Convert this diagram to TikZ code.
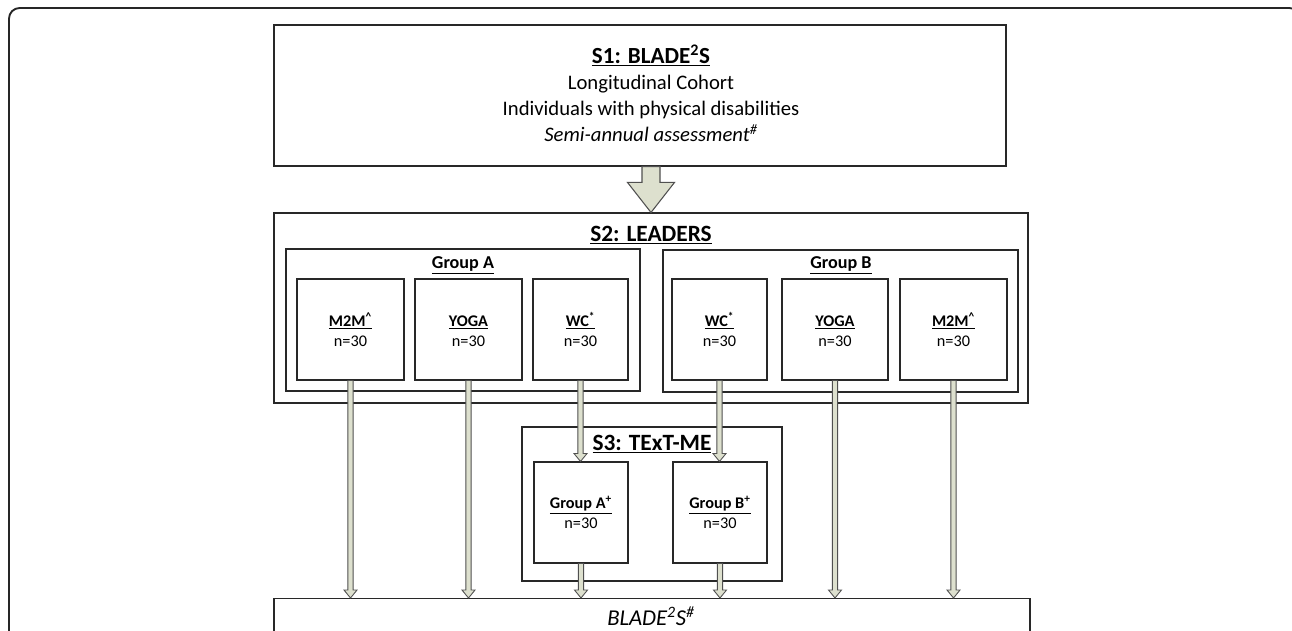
\documentclass[tikz,border=0pt]{standalone}
\usepackage{fontspec}
\setmainfont{Carlito}
\usetikzlibrary{calc}
\definecolor{afill}{RGB}{221,224,206}
\definecolor{aline}{RGB}{80,80,80}
\definecolor{bline}{RGB}{40,40,40}
\newcommand\supph{\vphantom{\textsuperscript{*}}}
\tikzset{
  box/.style={draw=bline, line width=0.8pt, rectangle, inner sep=0pt, align=center},
  barrow/.style n args={3}{to path={let \p1=(\tikztostart), \p2=(\tikztotarget) in
     (\x1-#1,\y1) -- (\x1-#1,\y2+#3) -- (\x1-#2,\y2+#3) -- (\x1,\y2) -- (\x1+#2,\y2+#3) -- (\x1+#1,\y2+#3) -- (\x1+#1,\y1) -- cycle}},
  thinarrow/.style={fill=afill, draw=aline, line width=0.65pt, line join=miter, barrow={2pt}{4.9pt}{6pt}},
  bigarrow/.style={fill=afill, draw=aline, line width=0.8pt, line join=miter, barrow={6.75pt}{17.6pt}{22.5pt}},
  bigtext/.style={font=\fontsize{15.5}{19.5}\selectfont, align=center, inner sep=0pt},
  stitle/.style={font=\fontsize{17.5}{21}\selectfont\bfseries, inner sep=0pt},
  gtitle/.style={font=\fontsize{13.6}{16}\selectfont\bfseries, inner sep=0pt},
  inner/.style={box, font=\fontsize{12.2}{15}\selectfont, minimum height=75.75pt},
}
\begin{document}
\begin{tikzpicture}[x=0.75pt,y=-0.75pt]
\useasboundingbox (0,0) rectangle (1292,631);
\clip (0,0) rectangle (1292,631);
% outer frame
\draw[line width=1.4pt, draw=black!85, rounded corners=8pt] (9,700) -- (9,8) -- (1300,8) -- (1300,700);

% S1
\node[box, minimum width=549pt, minimum height=105.75pt] (s1) at (640,95.5) {};
\node[bigtext] (s1text) at (651,93) {\underline{\textbf{\fontsize{17.3}{19.5}\selectfont S1: BLADE\textsuperscript{2}S}}\\Longitudinal Cohort\\Individuals with physical disabilities\\\textit{Semi-annual assessment\textsuperscript{\#}}};

% S2
\node[box, minimum width=565.5pt, minimum height=142.5pt] (s2) at (651,308) {};
\node[stitle] (s2t) at (651,235) {\underline{S2: LEADERS}};
\node[box, minimum width=265.5pt, minimum height=106.5pt] (ga) at (463,320) {};
\node[gtitle] (gat) at (463,265) {\underline{Group A}};
\node[box, minimum width=266.25pt, minimum height=106.5pt] (gb) at (840.5,321) {};
\node[gtitle] (gbt) at (841,265) {\underline{Group B}};

\node[inner, minimum width=80.25pt] (m2ma) at (350.5,329.5) {\underline{\textbf{M2M\textsuperscript{\textasciicircum}}}\\n=30};
\node[inner, minimum width=80.25pt] (yogaa) at (468.5,329.5) {\underline{\textbf{YOGA}}\supph\\n=30};
\node[inner, minimum width=71.25pt] (wca) at (580.5,329.5) {\underline{\textbf{WC\textsuperscript{*}}}\\n=30};
\node[inner, minimum width=71.25pt] (wcb) at (719.5,329.5) {\underline{\textbf{WC\textsuperscript{*}}}\\n=30};
\node[inner, minimum width=79.5pt] (yogab) at (835,329.5) {\underline{\textbf{YOGA}}\supph\\n=30};
\node[inner, minimum width=80.25pt] (m2mb) at (953.5,329.5) {\underline{\textbf{M2M\textsuperscript{\textasciicircum}}}\\n=30};

% S3
\node[box, minimum width=195pt, minimum height=115.5pt] (s3) at (652,504) {};
\node[stitle] (s3t) at (652,444) {\underline{S3: TExT-ME}};
\node[inner, minimum width=70.5pt] (gap) at (581,512.5) {\underline{\textbf{Group A\textsuperscript{+}}}\\n=30};
\node[inner, minimum width=70.5pt] (gbp) at (720,512.5) {\underline{\textbf{Group B\textsuperscript{+}}}\\n=30};

% BLADE bottom
\node[box, anchor=north, minimum width=567pt, minimum height=60pt] (blade) at (652,598) {};
\node[bigtext, font=\fontsize{17}{19.5}\selectfont\itshape] (bladet) at (651,616) {BLADE\textsuperscript{2}S\textsuperscript{\#}};

% arrows
\draw[bigarrow] (s2.north |- s1.south) to (s2.north);
\draw[thinarrow] (m2ma.south) to (m2ma.south |- blade.north);
\draw[thinarrow] (yogaa.south) to (yogaa.south |- blade.north);
\draw[thinarrow] (wca.south) to (wca.south |- gap.north);
\draw[thinarrow] (wcb.south) to (wcb.south |- gbp.north);
\draw[thinarrow] (gap.south) to (gap.south |- blade.north);
\draw[thinarrow] (gbp.south) to (gbp.south |- blade.north);
\draw[thinarrow] (yogab.south) to (yogab.south |- blade.north);
\draw[thinarrow] (m2mb.south) to (m2mb.south |- blade.north);
\end{tikzpicture}
\end{document}
